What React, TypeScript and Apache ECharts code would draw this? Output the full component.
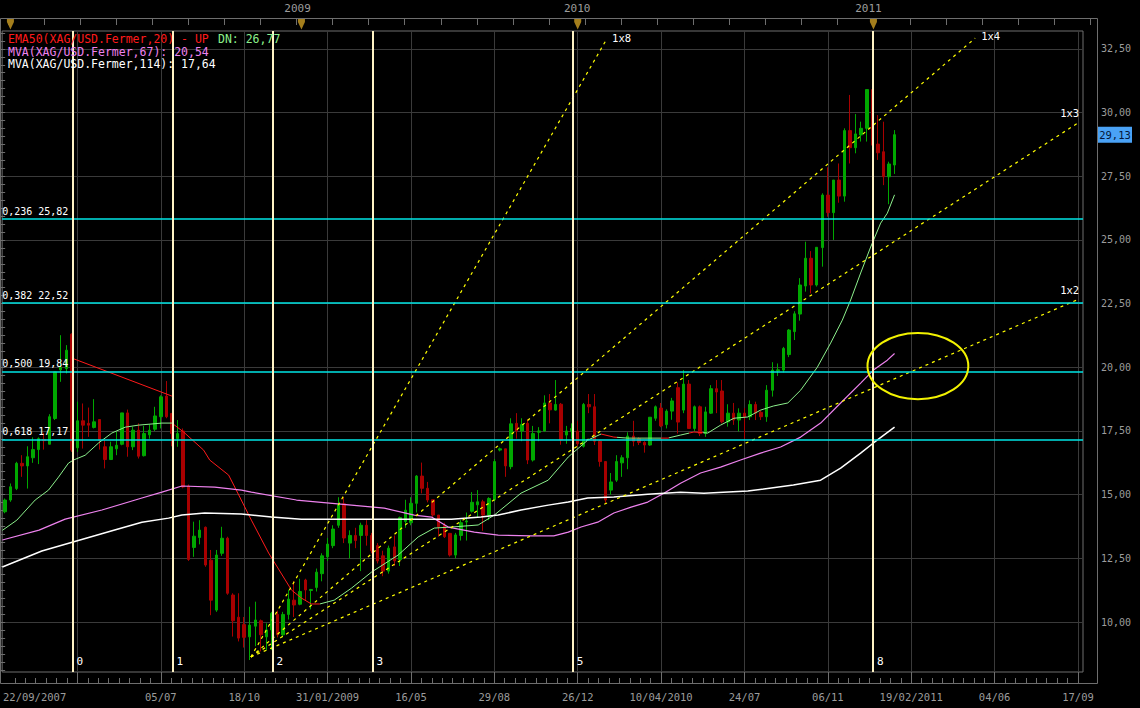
import React, { useEffect, useRef } from "react";
import * as echarts from "echarts";

// ---------- data (x = weekly bar index) ----------
// [open, close, low, high]
const ohlc: [number, number, number, number][] = [
  [14.33, 14.79, 14.27, 14.85], [14.79, 15.31, 14.72, 15.44], [15.24, 16.23, 15.18, 16.29], [16.23, 16.13, 15.7, 16.55],
  [16.13, 16.49, 15.24, 16.9], [16.45, 16.77, 16.25, 17.25], [16.77, 17.2, 16.2, 17.25], [17.17, 17.12, 16.77, 17.43],
  [16.98, 18.06, 16.98, 18.16], [17.99, 19.82, 17.93, 19.82], [19.9, 20.0, 19.43, 21.26], [19.95, 20.67, 19.76, 20.87],
  [21.3, 16.75, 16.68, 21.33], [16.84, 17.9, 16.68, 18.65], [17.9, 17.73, 16.81, 18.58], [17.8, 17.73, 17.27, 18.42],
  [17.64, 17.86, 17.6, 18.75], [17.95, 17.14, 16.77, 17.95], [16.88, 16.38, 16.03, 17.14], [16.38, 16.88, 16.36, 17.08],
  [16.8, 16.94, 16.55, 17.47], [16.98, 18.21, 16.94, 18.21], [18.21, 16.88, 16.49, 18.34], [16.88, 17.53, 16.75, 17.66],
  [17.53, 16.51, 16.42, 17.8], [16.53, 17.4, 16.5, 17.7], [17.35, 17.53, 17.2, 17.75], [17.57, 18.09, 17.5, 18.45],
  [18.06, 18.84, 17.6, 18.9], [18.87, 18.06, 18.0, 19.46], [18.19, 17.4, 16.9, 18.19], [17.2, 17.4, 16.88, 17.93],
  [17.5, 15.3, 15.25, 17.6], [15.34, 12.46, 12.4, 15.4], [12.93, 13.37, 12.56, 13.94], [13.32, 13.61, 13.05, 14.0],
  [13.72, 12.24, 12.17, 13.75], [12.43, 10.86, 10.27, 12.83], [10.47, 12.63, 10.4, 12.83], [12.7, 13.29, 12.6, 13.74],
  [13.29, 11.13, 11.07, 13.35], [11.06, 10.05, 9.43, 11.13], [10.19, 9.37, 9.24, 11.13], [9.9, 9.4, 9.0, 10.2],
  [9.42, 9.88, 8.51, 10.6], [9.84, 10.08, 9.05, 10.8], [10.05, 9.5, 8.85, 10.1], [9.42, 9.69, 8.9, 9.95],
  [9.69, 10.34, 8.9, 10.4], [10.3, 9.5, 9.4, 10.45], [9.5, 10.3, 9.4, 10.4], [10.3, 10.9, 10.1, 11.26],
  [10.86, 10.67, 10.2, 11.6], [10.7, 11.2, 10.66, 11.7], [11.65, 11.26, 10.86, 11.7], [11.24, 11.28, 10.5, 11.3],
  [11.36, 11.96, 11.2, 12.1], [11.9, 12.6, 11.6, 12.7], [12.56, 13.06, 12.4, 13.3], [13.0, 13.65, 12.9, 13.8],
  [13.8, 14.6, 13.7, 14.9], [14.64, 13.3, 13.1, 14.9], [13.1, 13.4, 12.5, 13.6], [13.4, 13.2, 12.9, 13.7],
  [13.4, 13.8, 12.0, 13.9], [13.8, 13.4, 13.0, 14.0], [13.4, 12.8, 12.7, 13.5], [13.0, 12.4, 12.3, 13.1],
  [12.6, 12.0, 11.8, 12.8], [12.0, 12.9, 11.9, 13.0], [12.95, 12.4, 12.2, 13.4], [12.45, 14.1, 12.2, 14.14],
  [13.95, 14.39, 13.7, 14.8], [13.9, 14.66, 13.8, 14.9], [14.66, 15.73, 14.3, 15.77], [15.73, 15.25, 15.05, 16.26],
  [15.25, 14.79, 14.7, 15.5], [14.8, 14.2, 14.13, 14.8], [14.2, 13.74, 13.35, 14.2], [13.8, 13.35, 13.3, 13.9],
  [13.48, 12.63, 12.57, 13.5], [12.63, 13.42, 12.5, 13.5], [13.4, 13.9, 13.2, 14.0], [13.93, 13.97, 13.2, 14.3],
  [14.35, 14.7, 14.3, 15.1], [14.6, 14.72, 14.1, 15.18], [14.72, 14.2, 13.58, 14.8], [14.2, 14.85, 14.0, 14.9],
  [14.8, 16.3, 14.74, 16.4], [16.75, 16.8, 16.7, 16.85], [16.8, 16.13, 15.7, 16.8], [16.1, 17.78, 16.0, 18.0],
  [17.8, 17.5, 17.2, 18.2], [17.5, 17.75, 17.1, 18.0], [17.8, 16.36, 16.2, 17.96], [16.36, 17.4, 16.3, 17.7],
  [17.45, 17.5, 17.1, 17.65], [17.5, 18.6, 17.47, 18.9], [18.6, 18.33, 17.8, 18.95], [18.32, 18.54, 18.3, 19.5],
  [18.55, 17.15, 16.96, 18.6], [17.34, 17.5, 17.0, 17.7], [17.5, 17.6, 17.2, 17.8], [17.5, 17.0, 16.9, 17.9],
  [16.9, 18.54, 16.85, 18.6], [18.54, 18.45, 18.2, 18.95], [18.45, 17.1, 16.95, 18.95], [17.1, 16.3, 16.1, 17.15],
  [16.3, 14.79, 14.65, 16.3], [15.18, 15.5, 15.0, 15.85], [15.57, 16.3, 15.5, 16.55], [16.25, 16.45, 15.7, 16.55],
  [16.45, 17.3, 16.0, 17.45], [17.3, 17.1, 16.9, 17.9], [17.2, 17.05, 16.95, 17.25], [17.05, 16.95, 16.65, 17.1],
  [16.95, 18.04, 16.92, 18.04], [18.0, 18.45, 17.9, 18.5], [18.4, 17.7, 17.65, 18.6], [17.75, 18.28, 17.6, 18.35],
  [18.28, 18.68, 17.94, 18.8], [19.2, 17.85, 17.4, 19.4], [18.32, 19.34, 18.2, 19.89], [19.34, 17.6, 17.6, 19.5],
  [17.6, 18.45, 17.5, 18.5], [18.45, 17.4, 17.3, 18.5], [17.4, 18.25, 17.27, 18.45], [18.2, 19.16, 18.17, 19.3],
  [19.16, 19.03, 18.2, 19.5], [19.07, 17.86, 17.8, 19.5], [17.86, 18.2, 17.67, 18.55], [18.2, 17.93, 17.74, 18.6],
  [17.93, 18.2, 17.48, 18.39], [18.2, 18.06, 17.2, 18.4], [18.06, 18.54, 17.93, 18.7], [18.54, 18.2, 17.93, 18.65],
  [18.23, 18.06, 17.93, 18.3], [18.06, 19.1, 17.86, 19.3], [19.1, 19.89, 18.85, 20.2], [19.87, 19.9, 19.66, 20.15],
  [19.89, 20.74, 19.8, 20.8], [20.5, 21.46, 20.4, 21.5], [21.4, 22.1, 21.07, 22.2], [22.09, 23.23, 21.83, 23.5],
  [23.19, 24.28, 22.97, 24.93], [24.28, 23.23, 22.9, 24.56], [23.23, 24.71, 23.17, 24.71], [24.7, 26.76, 23.95, 26.83],
  [26.76, 26.07, 25.91, 27.85], [26.07, 27.35, 25.0, 27.35], [27.35, 26.72, 26.46, 28.0], [26.72, 29.29, 26.5, 29.38],
  [29.29, 28.62, 28.0, 30.69], [28.62, 29.16, 28.4, 29.94], [29.12, 29.38, 28.86, 29.64], [29.38, 30.9, 28.86, 30.9],
  [30.9, 28.72, 28.72, 30.9], [28.76, 28.42, 28.14, 29.9], [28.46, 27.48, 27.15, 29.64], [27.48, 27.98, 26.4, 28.07],
  [27.94, 29.13, 27.59, 29.31],
];

// moving averages, [week, value] points
const ema50: [number, number][] = [
  [-0.5, 13.6], [2.1, 14.0], [5.4, 14.79], [7.8, 15.18], [9.6, 15.69], [11.4, 16.24], [12.3, 16.36], [14.4, 16.55],
  [16.8, 17.03], [19.2, 17.42], [21.6, 17.65], [24, 17.73], [28.2, 17.81], [30, 17.81], [32.1, 17.46], [35.7, 16.75],
  [36.8, 16.36], [40.2, 15.77], [41.3, 15.3], [44.3, 14.0], [47.4, 12.71], [51.5, 11.26], [53.3, 10.94], [55.1, 10.71],
  [56.6, 10.71], [59.2, 10.86], [62.3, 11.33], [65.9, 11.96], [70.7, 12.63], [74.3, 13.34], [77.2, 13.69], [80.3, 13.73],
  [85.1, 13.81], [88, 14.2], [92.8, 15.06], [97.7, 15.57], [101.3, 16.48], [104.8, 17.14], [107.2, 17.38], [109.5, 17.26],
  [112, 17.22], [119.2, 17.22], [121.5, 17.34], [123.9, 17.46], [126.4, 17.42], [128.7, 17.73], [131.1, 18.0],
  [133.6, 18.05], [135.9, 18.32], [138.2, 18.48], [140.8, 18.6], [143.1, 19.1], [146.1, 20.0], [148.5, 20.95],
  [150.6, 21.85], [152.1, 22.64], [153.9, 23.7], [155.7, 24.72], [157.5, 25.66], [158.7, 26.05], [160, 26.77],
];
const emaDownRanges: [number, number][] = [[30, 56.6], [107.2, 110], [118, 119.5], [123, 125.5]];
const emaTrend: [number, number][] = [[12, 20.36], [30, 18.87]];

const ma67: [number, number][] = [
  [-0.5, 13.22], [6.1, 13.61], [10.8, 14.04], [17.4, 14.4], [24.6, 14.87], [28.2, 15.1], [31.8, 15.34], [37.7, 15.3],
  [42.5, 15.18], [44.3, 15.1], [52.4, 14.79], [62.3, 14.59], [68.2, 14.47], [73.6, 14.2], [76.7, 14.12], [79.7, 13.73],
  [84.4, 13.53], [88.7, 13.41], [94.6, 13.38], [98.7, 13.38], [101.3, 13.53], [103.6, 13.73], [106.6, 13.92],
  [109.5, 14.28], [112.6, 14.51], [115.6, 14.71], [118.5, 15.06], [121.5, 15.45], [125.1, 15.85], [128.7, 16.08],
  [132.3, 16.36], [135.9, 16.63], [139.5, 16.87], [143.1, 17.26], [146.7, 17.81], [150.3, 18.6], [153.9, 19.38],
  [156.2, 19.89], [158.7, 20.28], [160, 20.54],
];
const ma114: [number, number][] = [
  [-0.5, 12.16], [6.6, 12.79], [19.7, 13.61], [24.6, 13.92], [29.4, 14.08], [31.8, 14.2], [35.9, 14.28], [42.5, 14.24],
  [47.9, 14.12], [53.3, 14.04], [62.3, 14.04], [73.1, 14.04], [80.3, 14.04], [85.6, 14.12], [88.7, 14.2], [92.8, 14.4],
  [97.7, 14.59], [101.3, 14.71], [104.8, 14.87], [109.5, 14.91], [115.6, 15.02], [121.5, 15.1], [125.7, 15.06],
  [133.6, 15.14], [141.8, 15.38], [146.7, 15.57], [150.3, 16.04], [153.9, 16.63], [156.2, 17.03], [160, 17.65],
];

// Fibonacci retracements
const fibRatios = ["0,236", "0,382", "0,500", "0,618"];
const fibPrices = [25.82, 22.52, 19.84, 17.17];
// Fibonacci time zones
const fibTimeWeeks = [12.1, 30.1, 48.1, 66.1, 102.1, 156.1];
const fibTimeNames = ["0", "1", "2", "3", "5", "8"];
// Gann fan
const gannOrigin: [number, number] = [44.2, 8.63];
const gannNames = ["1x8", "1x4", "1x3", "1x2"];
const gannEnds: [number, number][] = [[108.1, 32.84], [174.5, 32.92], [193.2, 29.62], [193.2, 22.68]];
// annotation ellipse: centre and radii (weeks, price)
const ellipseCenter: [number, number] = [164.2, 20.05];
const ellipseRadius: [number, number] = [9.07, 1.3];

// axes
const weekTicks = [13, 28, 43, 58, 73, 88, 103, 118, 133, 148, 163, 178, 193];
const dateLabelWeeks = [5.3, 28, 43, 58, 73, 88, 103, 118, 133, 148, 163, 178, 193];
const dateLabels = ["22/09/2007", "05/07", "18/10", "31/01/2009", "16/05", "29/08", "26/12", "10/04/2010", "24/07", "06/11", "19/02/2011", "04/06", "17/09"];
const yearWeeks = [52.6, 102.9, 155.3];
const yearLabels = ["2009", "2010", "2011"];
const yearMarkerWeeks = [0.95, 53.3, 103, 156.2];
const priceTicks = [10, 12.5, 15, 17.5, 20, 22.5, 25, 27.5, 30, 32.5];
const lastPrice = 29.13;
const legendValues = { up: "EMA50(XAG/USD.Fermer,20) - UP", dn: "DN: 26,77", ma67: "MVA(XAG/USD.Fermer,67): 20,54", ma114: "MVA(XAG/USD.Fermer,114): 17,64" };

const X_MIN = -0.54, X_MAX = 193.9, Y_MIN = 8.04, Y_MAX = 33.2;
const FONT = "'DejaVu Sans Mono', monospace";
const GRID_C = "#3a3a3a";
const FRAME_C = "#6e6e6e";
const LABEL_C = "#9c9c9c";
const GREEN = "#00a800";
const RED = "#a80000";

const minorWeekTicks: number[] = [];
for (let k = -6; k <= 96; k++) { const v = 13 + k * 1.875; if (v > X_MIN && v < X_MAX && k % 8 !== 0) minorWeekTicks.push(v); }
const minorPriceTicks: number[] = [];
for (let k = 26; k <= 106; k++) { if (k % 8 !== 0) minorPriceTicks.push(k * 0.3125); }

const fmtPrice = (v: number) => v.toFixed(2).replace(".", ",");
const labelAt = (weeks: number[], labels: string[]) => (v: number) => {
  const k = weeks.findIndex((w) => Math.abs(w - v) < 0.01);
  return k >= 0 ? labels[k] : "";
};

export default function App() {
  const ref = useRef<HTMLDivElement>(null);
  useEffect(() => {
    document.body.style.margin = "0";
    document.body.style.background = "#000";
    const chart = echarts.init(ref.current!, undefined, { renderer: "svg" });
    const candleData = ohlc.map((c, i) => [i, c[0], c[1], c[2], c[3]]);

    const markLines: any[] = [];
    fibPrices.forEach((p, k) => {
      markLines.push({
        yAxis: p,
        lineStyle: { color: "#00e6e6", width: 1.5, type: "solid" },
        label: { show: true, position: "insideStartTop", formatter: `${fibRatios[k]} ${fmtPrice(p)}`, color: "#ffffff", fontFamily: FONT, fontSize: 10, distance: [0, 3], padding: 0 },
      });
    });
    fibTimeWeeks.forEach((w) => {
      markLines.push({ xAxis: w, lineStyle: { color: "#fff3c4", width: 2, type: "solid" }, label: { show: false } });
    });

    const gannSeries = gannNames.map((name, k) => ({
      type: "line",
      name,
      xAxisIndex: 0,
      yAxisIndex: 0,
      data: [gannOrigin, gannEnds[k]],
      showSymbol: false,
      lineStyle: { color: "#ffff00", width: 1.2, type: [3, 4] },
      silent: true,
      z: 4,
      markPoint: {
        symbol: "circle",
        symbolSize: 0,
        silent: true,
        data: [{
          coord: gannEnds[k],
          label: k < 2
            ? { show: true, formatter: name, position: [6, -2], align: "left", verticalAlign: "middle", color: "#fff", fontFamily: FONT, fontSize: 10.5 }
            : { show: true, formatter: name, position: [0, -4], align: "right", verticalAlign: "bottom", color: "#fff", fontFamily: FONT, fontSize: 10.5 },
        }],
      },
    }));

    const option: any = {
      animation: false,
      backgroundColor: "#000",
      grid: [
        { left: 0, top: 31, width: 1083, height: 641, show: true, borderColor: FRAME_C, borderWidth: 1, backgroundColor: "transparent" },
        { left: 0, top: 18, width: 1097, height: 1, show: false },
      ],
      xAxis: [
        {
          type: "value", gridIndex: 0, min: X_MIN, max: X_MAX, position: "bottom", offset: 11,
          axisLine: { show: false },
          axisTick: { show: true, inside: true, length: 11, customValues: weekTicks, lineStyle: { color: FRAME_C } },
          axisLabel: { show: true, customValues: dateLabelWeeks, formatter: labelAt(dateLabelWeeks, dateLabels), color: LABEL_C, fontFamily: FONT, fontSize: 10.5, margin: 8 },
          splitLine: { show: true, lineStyle: { color: GRID_C, width: 1 } },
        },
        {
          type: "value", gridIndex: 0, min: X_MIN, max: X_MAX, position: "bottom", offset: 11,
          axisLine: { show: false },
          axisTick: { show: true, inside: true, length: 5, customValues: minorWeekTicks, lineStyle: { color: FRAME_C } },
          axisLabel: { show: false }, splitLine: { show: false },
        },
        {
          type: "value", gridIndex: 1, min: -1.22, max: 29.19, splitNumber: 30, position: "top",
          axisLine: { show: false },
          axisTick: { show: true, inside: true, length: 6, lineStyle: { color: FRAME_C } },
          axisLabel: { show: false }, splitLine: { show: false },
        },
        {
          type: "value", gridIndex: 0, min: X_MIN, max: X_MAX, position: "top", offset: 13,
          axisLine: { show: false }, axisTick: { show: false },
          axisLabel: { show: true, customValues: yearWeeks, formatter: labelAt(yearWeeks, yearLabels), color: LABEL_C, fontFamily: FONT, fontSize: 11, margin: 4 },
          splitLine: { show: false },
        },
      ],
      yAxis: [
        {
          type: "value", gridIndex: 0, min: Y_MIN, max: Y_MAX, position: "right", offset: 14,
          axisLine: { show: false },
          axisTick: { show: true, inside: true, length: 14, customValues: priceTicks, lineStyle: { color: FRAME_C } },
          axisLabel: { show: true, customValues: priceTicks, formatter: fmtPrice, color: LABEL_C, fontFamily: FONT, fontSize: 10, margin: 4 },
          splitLine: { show: true, lineStyle: { color: GRID_C, width: 1 } },
        },
        {
          type: "value", gridIndex: 0, min: Y_MIN, max: Y_MAX, position: "right", offset: 14,
          axisLine: { show: false },
          axisTick: { show: true, inside: true, length: 7, customValues: minorPriceTicks, lineStyle: { color: FRAME_C } },
          axisLabel: { show: false }, splitLine: { show: false },
        },
        { type: "value", gridIndex: 1, show: false, min: 0, max: 1 },
      ],
      visualMap: [{
        type: "piecewise", show: false, seriesIndex: 1, dimension: 0,
        pieces: emaDownRanges.map(([a, b]) => ({ gte: a, lte: b, color: "#ff1a1a" })),
        outOfRange: { color: "#8cf08c" },
      }],
      series: [
        {
          type: "candlestick", name: "XAG/USD", xAxisIndex: 0, yAxisIndex: 0,
          data: candleData, encode: { x: 0, y: [1, 2, 3, 4] }, barWidth: 3,
          itemStyle: { color: GREEN, color0: RED, borderColor: GREEN, borderColor0: RED, borderWidth: 1 },
          markLine: { symbol: ["none", "none"], silent: true, animation: false, data: markLines },
          z: 2,
        },
        { type: "line", name: "EMA50", data: ema50, showSymbol: false, lineStyle: { width: 1 }, silent: true, z: 3 },
        { type: "line", name: "EMA50 trend", data: emaTrend, showSymbol: false, lineStyle: { width: 1, color: "#ff1a1a" }, itemStyle: { color: "#ff1a1a" }, silent: true, z: 3 },
        { type: "line", name: "MVA67", data: ma67, showSymbol: false, lineStyle: { width: 1.2, color: "#ee82ee" }, itemStyle: { color: "#ee82ee" }, silent: true, z: 3 },
        { type: "line", name: "MVA114", data: ma114, showSymbol: false, lineStyle: { width: 1.5, color: "#ffffff" }, itemStyle: { color: "#ffffff" }, silent: true, z: 3 },
        ...gannSeries,
      ],
    };
    chart.setOption(option);

    const px = (v: number) => chart.convertToPixel({ xAxisIndex: 0 }, v) as number;
    const py = (v: number) => chart.convertToPixel({ yAxisIndex: 0 }, v) as number;
    const font = (s: number) => `${s}px ${FONT}`;
    const g: any[] = [];
    g.push({ type: "rect", silent: true, shape: { x: 0.5, y: 18.5, width: 1097, height: 665 }, style: { stroke: FRAME_C, fill: "none", lineWidth: 1 }, z: 10 });
    // legend lines
    g.push({ type: "text", x: 8, y: 39, silent: true, style: { text: legendValues.up, fill: "#ff1a1a", font: font(11.5), verticalAlign: "middle" }, z: 20 });
    g.push({ type: "text", x: 218, y: 39, silent: true, style: { text: legendValues.dn, fill: "#8cf08c", font: font(11.5), verticalAlign: "middle" }, z: 20 });
    g.push({ type: "text", x: 8, y: 52, silent: true, style: { text: legendValues.ma67, fill: "#ee82ee", font: font(11.5), verticalAlign: "middle" }, z: 20 });
    g.push({ type: "text", x: 8, y: 64, silent: true, style: { text: legendValues.ma114, fill: "#ffffff", font: font(11.5), verticalAlign: "middle" }, z: 20 });
    // fib time zone numbers
    fibTimeWeeks.forEach((w, k) => {
      g.push({ type: "text", x: px(w) + 4, y: 661, silent: true, style: { text: fibTimeNames[k], fill: "#ffffff", font: font(11), verticalAlign: "middle" }, z: 20 });
    });
    // year markers
    yearMarkerWeeks.forEach((w) => {
      const cx = px(w);
      g.push({ type: "polygon", silent: true, shape: { points: [[cx - 3.5, 19], [cx + 3.5, 19], [cx + 3.5, 22], [cx, 29.5], [cx - 3.5, 22]] }, style: { fill: "#a47e1c" }, z: 20 });
    });
    // ellipse
    const ecx = px(ellipseCenter[0]), ecy = py(ellipseCenter[1]);
    g.push({
      type: "ellipse", silent: true,
      shape: { cx: ecx, cy: ecy, rx: px(ellipseCenter[0] + ellipseRadius[0]) - ecx, ry: py(ellipseCenter[1] - ellipseRadius[1]) - ecy },
      style: { stroke: "#f2f200", lineWidth: 2, fill: "none" }, z: 15,
    });
    // last price box
    const lp = py(lastPrice);
    g.push({ type: "rect", silent: true, shape: { x: 1098, y: lp - 8, width: 34, height: 16 }, style: { fill: "#4aa2f6" }, z: 20 });
    g.push({ type: "text", x: 1115, y: lp, silent: true, style: { text: fmtPrice(lastPrice), fill: "#04163a", font: font(10.5), align: "center", verticalAlign: "middle" }, z: 21 });
    chart.setOption({ graphic: g });

    return () => chart.dispose();
  }, []);
  return <div ref={ref} style={{ position: "fixed", left: 0, top: 0, width: 1140, height: 708, background: "#000" }} />;
}
